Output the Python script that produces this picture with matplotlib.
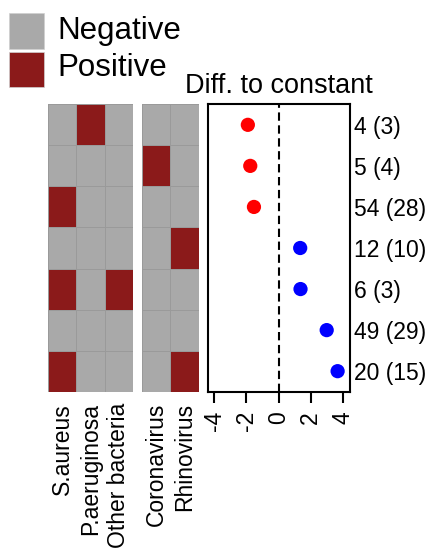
import numpy as np
import matplotlib
matplotlib.use('Agg')
import matplotlib.pyplot as plt
from matplotlib.colors import ListedColormap
from matplotlib.patches import Rectangle

plt.rcParams['font.family'] = ['Liberation Sans', 'DejaVu Sans']

# %% data
bact_names = ['S.aureus', 'P.aeruginosa', 'Other bacteria']
virus_names = ['Coronavirus', 'Rhinovirus']
# 1 = positive, 0 = negative; rows top to bottom
bact = np.array([[0, 1, 0],
                 [0, 0, 0],
                 [1, 0, 0],
                 [0, 0, 0],
                 [1, 0, 1],
                 [0, 0, 0],
                 [1, 0, 0]])
virus = np.array([[0, 0],
                  [1, 0],
                  [0, 0],
                  [0, 1],
                  [0, 0],
                  [0, 0],
                  [0, 1]])
diff = [-1.91, -1.76, -1.53, 1.35, 1.37, 3.0, 3.68]
row_labels = ['4 (3)', '5 (4)', '54 (28)', '12 (10)', '6 (3)', '49 (29)', '20 (15)']
xticks = [-4, -2, 0, 2, 4]
legend_labels = ['Negative', 'Positive']

neg_col = '#A9A9A9'
pos_col = '#8B1A1A'
cmap = ListedColormap([neg_col, pos_col])

# %% figure
W, H = 428, 549
fig = plt.figure(figsize=(W / 100, H / 100), dpi=100)

bot = 1 - 391.7 / H
ht = 287.4 / H
ax1 = fig.add_axes([48.3 / W, bot, 84.4 / W, ht])
ax2 = fig.add_axes([141.7 / W, bot, 57.3 / W, ht])
ax3 = fig.add_axes([207.7 / W, bot, 142.6 / W, ht])

for ax, mat, names in [(ax1, bact, bact_names), (ax2, virus, virus_names)]:
    ax.pcolormesh(mat, cmap=cmap, vmin=0, vmax=1, edgecolors='#9a9a9a', linewidth=0.7)
    ax.set_xlim(0, mat.shape[1])
    ax.set_ylim(mat.shape[0], 0)
    ax.set_xticks(np.arange(mat.shape[1]) + 0.5)
    ax.set_xticklabels(names, rotation=90, fontsize=16.5, va='top')
    ax.set_yticks([])
    ax.tick_params(axis='x', length=0, pad=8)
    for s in ax.spines.values():
        s.set_visible(False)

# dot plot
ypos = np.arange(len(diff))
cols = ['#FF0000' if d < 0 else '#0000FF' for d in diff]
ax3.scatter(diff, ypos, s=105, c=cols, zorder=3, linewidths=0)
ax3.axvline(0, color='black', linestyle=(0, (4, 2.2)), linewidth=1.5)
ax3.set_xlim(-4.41, 4.47)
ax3.set_ylim(len(diff) - 0.5, -0.5)
ax3.set_xticks(xticks)
ax3.set_xticklabels([str(t) for t in xticks], rotation=90, fontsize=16.5)
ax3.tick_params(axis='x', length=8, width=1.5, pad=6)
ax3.yaxis.tick_right()
ax3.set_yticks(ypos)
ax3.set_yticklabels(row_labels, fontsize=16.5)
ax3.tick_params(axis='y', length=0, pad=3)
for s in ax3.spines.values():
    s.set_linewidth(1.5)
ax3.set_title('Diff. to constant', fontsize=19.5, pad=8)

# legend (drawn by hand in figure pixels)
for i, (lab, col) in enumerate(zip(legend_labels, [neg_col, pos_col])):
    top = 13.3 + i * 38.4
    fig.add_artist(Rectangle((9 / W, 1 - (top + 35.2) / H), 35.3 / W, 35.2 / H,
                             transform=fig.transFigure, facecolor=col,
                             edgecolor='#d0d0d0', linewidth=0.5))
    fig.text(57 / W, 1 - (39.5 + i * 36) / H, lab, fontsize=22.5, va='baseline', ha='left')

fig.savefig('out.png', dpi=100)
